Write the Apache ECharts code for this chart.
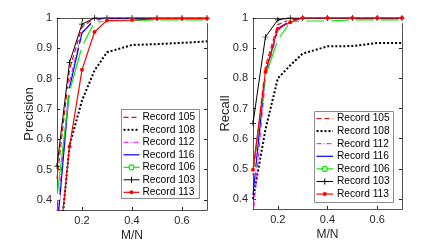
<!DOCTYPE html>
<html>
<head>
<meta charset="utf-8">
<script src="https://cdn.jsdelivr.net/npm/echarts@6/dist/echarts.min.js"></script>
<style>html,body{margin:0;padding:0;background:#fff}#c{width:444px;height:242px}</style>
</head>
<body>
<div id="c"></div>
<script>
const xVals = [0.1, 0.15, 0.2, 0.25, 0.3, 0.4, 0.5, 0.6, 0.7];
const xTicks = [0.2, 0.4, 0.6];
const yTicks = [0.4, 0.5, 0.6, 0.7, 0.8, 0.9, 1];
const names = ['Record 105', 'Record 108', 'Record 112', 'Record 116', 'Record 106', 'Record 103', 'Record 113'];

// Precision
const p105 = [0.47, 0.83, 0.97, 1.0, 1.0, 1.0, 1.0, 1.0, 1.0];
const p108 = [0.15, 0.58, 0.728, 0.827, 0.887, 0.911, 0.914, 0.918, 0.923];
const p112 = [0.33, 0.79, 0.955, 0.99, 1.0, 1.0, 1.0, 1.0, 1.0];
const p116 = [0.3, 0.77, 0.95, 0.995, 1.0, 1.0, 1.0, 1.0, 1.0];
const p106 = [0.41, 0.757, 0.906, 0.986, 0.99, 0.992, 0.994, 0.994, 0.994];
const p103 = [0.512, 0.853, 0.98, 1.0, 1.0, 1.0, 1.0, 1.0, 1.0];
const p113 = [0.17, 0.576, 0.829, 0.954, 0.992, 0.993, 0.998, 0.998, 0.998];

// Recall
const r105 = [0.48, 0.84, 0.978, 0.995, 1.0, 1.0, 1.0, 1.0, 1.0];
const r108 = [0.4, 0.63, 0.8, 0.843, 0.882, 0.906, 0.907, 0.917, 0.917];
const r112 = [0.34, 0.8, 0.96, 0.99, 1.0, 1.0, 1.0, 1.0, 1.0];
const r116 = [0.414, 0.82, 0.965, 0.99, 1.0, 1.0, 1.0, 1.0, 1.0];
const r106 = [0.497, 0.807, 0.928, 0.986, 0.99, 0.99, 0.994, 0.994, 0.994];
const r103 = [0.651, 0.937, 0.994, 1.0, 1.0, 1.0, 1.0, 1.0, 1.0];
const r113 = [0.497, 0.821, 0.964, 0.986, 1.0, 1.0, 1.0, 1.0, 1.0];

const plusPath = 'path://M4.4,0H5.6V4.4H10V5.6H5.6V10H4.4V5.6H0V4.4H4.4Z';
const styles = [
  {color: '#ff0000', type: [5, 3], width: 1.2, symbol: 'none', mk: null},
  {color: '#000000', type: [2, 2], width: 2, symbol: 'none', mk: null},
  {color: '#ff00ff', type: [5, 2, 1, 2], width: 1, symbol: 'none', mk: null},
  {color: '#0000ff', type: 'solid', width: 1.2, symbol: 'none', mk: null},
  {color: '#00ee00', type: 'solid', width: 1.2, symbol: 'emptyCircle', size: 5, mk: 'o'},
  {color: '#000000', type: 'solid', width: 1, symbol: plusPath, size: 6, mk: '+'},
  {color: '#ff0000', type: 'solid', width: 1.2, symbol: 'circle', size: 4, mk: '*'}
];

const prec = [p105, p108, p112, p116, p106, p103, p113];
const rec = [r105, r108, r112, r116, r106, r103, r113];

const font = 'Liberation Sans, Arial, sans-serif';
const axisColor = '#262626';

function mkSeries(arrs, idx) {
  return arrs.map((arr, i) => {
    const s = styles[i];
    return {
      name: names[i],
      type: 'line',
      xAxisIndex: idx * 2,
      yAxisIndex: idx * 2,
      data: xVals.map((x, k) => [x, arr[k]]),
      symbol: s.symbol,
      symbolSize: s.size || 4,
      showSymbol: s.symbol !== 'none',
      clip: true,
      lineStyle: {color: s.color, type: s.type, width: s.width},
      itemStyle: {color: s.symbol === 'emptyCircle' ? '#ffffff' : s.color, borderColor: s.color, borderWidth: s.symbol === 'emptyCircle' ? 1.2 : 0},
      emphasis: {disabled: true},
      z: 2 + i
    };
  });
}

const grids = [
  {left: 57, top: 18, width: 150, height: 192, outerBoundsMode: 'none', containLabel: false},
  {left: 253, top: 18, width: 149, height: 191, outerBoundsMode: 'none', containLabel: false}
];

const xAxes = [], yAxes = [];
[0, 1].forEach(g => {
  xAxes.push({
    type: 'value', gridIndex: g, min: 0.1, max: 0.7, position: 'bottom',
    name: 'M/N', nameLocation: 'middle', nameGap: 20, nameMoveOverlap: false,
    nameTextStyle: {color: axisColor, fontSize: 12, fontFamily: font},
    axisLine: {show: true, onZero: false, lineStyle: {color: axisColor, width: 0.8}},
    axisTick: {show: true, inside: true, length: 3, interval: 0, customValues: xTicks, lineStyle: {color: axisColor}},
    axisLabel: {customValues: xTicks, interval: 0, hideOverlap: false, color: axisColor, fontSize: 11, fontFamily: font, margin: 5},
    splitLine: {show: false}
  });
  xAxes.push({
    type: 'value', gridIndex: g, min: 0.1, max: 0.7, position: 'top',
    axisLine: {show: true, onZero: false, lineStyle: {color: axisColor, width: 0.8}},
    axisTick: {show: true, inside: true, length: 3, interval: 0, customValues: xTicks, lineStyle: {color: axisColor}},
    axisLabel: {show: false}, splitLine: {show: false}
  });
  yAxes.push({
    type: 'value', gridIndex: g, min: 0.367, max: 1, position: 'left',
    name: g === 0 ? 'Precision' : 'Recall', nameLocation: 'middle', nameGap: 21, nameMoveOverlap: false,
    nameTextStyle: {color: axisColor, fontSize: 13, fontFamily: font},
    axisLine: {show: true, onZero: false, lineStyle: {color: axisColor, width: 0.8}},
    axisTick: {show: true, inside: true, length: 3, customValues: yTicks, lineStyle: {color: axisColor}},
    axisLabel: {customValues: yTicks, color: axisColor, fontSize: 11, fontFamily: font, margin: 5, formatter: v => (v === 1 ? '1' : v.toFixed(1))},
    splitLine: {show: false}
  });
  yAxes.push({
    type: 'value', gridIndex: g, min: 0.367, max: 1, position: 'right',
    axisLine: {show: true, onZero: false, lineStyle: {color: axisColor, width: 0.8}},
    axisTick: {show: true, inside: true, length: 3, customValues: yTicks, lineStyle: {color: axisColor}},
    axisLabel: {show: false}, splitLine: {show: false}
  });
});

// hand-drawn legend box (MATLAB style), one per panel
function mkLegend(bx, by, bw, bh, lx1, lx2, tx, firstY, step) {
  const kids = [{
    type: 'rect', shape: {x: bx + 0.5, y: by + 0.5, width: bw, height: bh},
    style: {fill: '#ffffff', stroke: '#8c8c8c', lineWidth: 1}
  }];
  names.forEach((nm, i) => {
    const s = styles[i];
    const cy = firstY + i * step;
    kids.push({
      type: 'line', shape: {x1: lx1, y1: cy, x2: lx2, y2: cy},
      style: {stroke: s.color, lineWidth: s.width, lineDash: Array.isArray(s.type) ? s.type : null}
    });
    const mx = (lx1 + lx2) / 2;
    if (s.mk === 'o') kids.push({type: 'circle', shape: {cx: mx, cy: cy, r: 2.5}, style: {fill: '#ffffff', stroke: s.color, lineWidth: 1.2}});
    if (s.mk === '*') kids.push({type: 'circle', shape: {cx: mx, cy: cy, r: 2}, style: {fill: s.color}});
    if (s.mk === '+') {
      kids.push({type: 'line', shape: {x1: mx, y1: cy - 3, x2: mx, y2: cy + 3}, style: {stroke: s.color, lineWidth: 1}});
    }
    kids.push({
      type: 'text', style: {text: nm, x: tx, y: cy, fill: '#000000', font: '10.2px ' + font, verticalAlign: 'middle', align: 'left'}
    });
  });
  return {type: 'group', children: kids, z: 100};
}

const chart = echarts.init(document.getElementById('c'), null, {renderer: 'canvas'});
const s0 = mkSeries(prec, 0);
const s1 = mkSeries(rec, 1);
chart.setOption({
  animation: false,
  backgroundColor: '#ffffff',
  grid: grids,
  xAxis: xAxes,
  yAxis: yAxes,
  graphic: [
    mkLegend(121, 109, 78, 89, 123.5, 139.5, 142.5, 117.3, 12.5),
    mkLegend(314, 111, 79, 91, 316.5, 333, 337, 118.5, 12.6)
  ],
  series: s0.concat(s1)
});
</script>
</body>
</html>
